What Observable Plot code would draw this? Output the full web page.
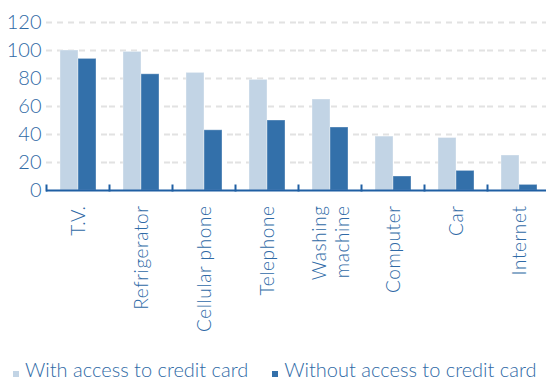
<!DOCTYPE html>
<html>
<head>
<meta charset="utf-8">
<script src="https://cdn.jsdelivr.net/npm/d3@7"></script>
<script src="https://cdn.jsdelivr.net/npm/@observablehq/plot@0.6"></script>
<style>
  html, body { margin: 0; padding: 0; background: #fff; }
  body { width: 546px; height: 381px; overflow: hidden; font-family: Lato, "Open Sans", sans-serif; font-weight: 300; }
  #legend { display: flex; align-items: baseline; font-size: 20px; line-height: 1.2; color: #2f6aa6; margin-top: 17px; padding-left: 13px; white-space: nowrap; }
  #legend .item { display: flex; align-items: baseline; }
  #legend .sw { display: inline-block; width: 6px; height: 6px; margin-right: 6px; margin-bottom: 4px; }
  #legend .item + .item { margin-left: 24px; }
  g[aria-label="fx-axis tick label"] text { letter-spacing: 0.6px; }
</style>
</head>
<body>
<div id="chart"></div>
<div id="legend"></div>
<script>
const categories = ["T.V.", "Refrigerator", "Cellular phone", "Telephone", "Washing\nmachine", "Computer", "Car", "Internet"];
const seriesNames = ["With access to credit card", "Without access to credit card"];
const withAccess = [100, 99, 84, 79, 65, 38.5, 37.5, 25];
const withoutAccess = [94, 83, 43, 50, 45, 10, 14, 4];
const yTicks = [0, 20, 40, 60, 80, 100, 120];
const colors = ["#c2d4e5", "#3370aa"];

const textBlue = "#2f6aa6";
const axisBlue = "#1f5fa3";

const data = categories.flatMap((c, i) => [
  {category: c, series: seriesNames[0], value: withAccess[i]},
  {category: c, series: seriesNames[1], value: withoutAccess[i]}
]);

const chart = Plot.plot({
  width: 546,
  height: 340,
  marginTop: 22,
  marginBottom: 150,
  marginLeft: 43,
  marginRight: -6,
  style: {fontFamily: "Lato, 'Open Sans', sans-serif", fontWeight: 300, background: "transparent"},
  fx: {domain: categories, padding: 0, label: null},
  x: {domain: seriesNames, paddingInner: 0, paddingOuter: 0.75, axis: null},
  y: {domain: [0, 120], label: null},
  color: {domain: seriesNames, range: colors},
  marks: [
    Plot.gridY(yTicks.slice(1), {stroke: "#e2e2e2", strokeOpacity: 1, strokeWidth: 2, strokeDasharray: "6,5"}),
    Plot.barY(data, {fx: "category", x: "series", y: "value", fill: "series", stroke: "white", strokeOpacity: 0.35, strokeWidth: 1}),
    Plot.ruleY([0], {stroke: axisBlue, strokeWidth: 2}),
    Plot.frame({anchor: "left", stroke: axisBlue, strokeWidth: 2, insetTop: 163}),
    Plot.axisY({ticks: yTicks, tickSize: 0, tickPadding: 5, fontSize: 20, fill: textBlue, label: null}),
    Plot.axisFx({anchor: "bottom", tickSize: 0, tickPadding: 15, tickRotate: -90, fontSize: 19, fill: textBlue, label: null, lineHeight: 1.2})
  ]
});
document.getElementById("chart").appendChild(chart);

const legend = document.getElementById("legend");
seriesNames.forEach((s, i) => {
  const item = document.createElement("span");
  item.className = "item";
  const sw = document.createElement("span");
  sw.className = "sw";
  sw.style.background = colors[i];
  item.appendChild(sw);
  item.appendChild(document.createTextNode(s));
  legend.appendChild(item);
});
</script>
</body>
</html>
